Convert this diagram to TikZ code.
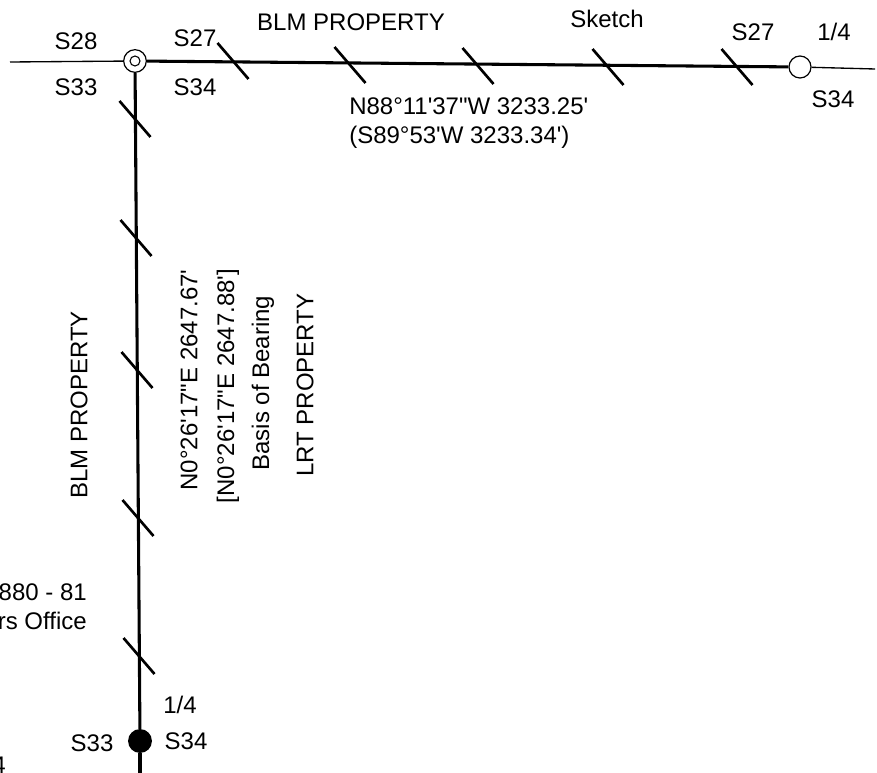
\documentclass[tikz,border=0pt]{standalone}
\usepackage{fontspec}
\newfontfamily\surveyfont{Liberation Sans}

\begin{document}
\begin{tikzpicture}[x=0.75pt,y=-0.75pt,
                main/.style = {draw, circle, inner sep=0pt, line width=0.9pt, fill=white},
                lbl/.style = {font=\surveyfont\fontsize{18}{21}\selectfont, inner sep=0pt},
                thinline/.style = {line width=1pt},
                thickline/.style = {line width=2.3pt},
                hatch/.style = {line width=2pt}]
                \useasboundingbox (0,0) rectangle (877,773);
                \clip (0,0) rectangle (877,773);
                \coordinate (west) at (10,62);
                \coordinate (east) at (875,69);
                \coordinate (south) at (140,773);
                \node[main, minimum size=17pt] (corner) at (135,61) {};
                \node[main, minimum size=16.5pt] (quarter) at (800,67) {};
                \node[main, minimum size=17pt, fill=black] (section) at (140,741) {};
                \draw[thinline] (west) -- (corner);
                \draw[thickline] (corner) -- (quarter);
                \draw[thinline] (quarter) -- (east);
                \draw[thickline] (corner) -- (section);
                \draw[thickline] (section) -- (south);
                \node[main, minimum size=7.5pt, line width=0.8pt] (centre) at (corner) {};
                % hatch marks on the two lines
                \foreach \x/\y in {233/61, 350/65, 478/66, 608/67, 737/67, 135/119, 136/238, 137/370, 138/518, 139/656}
                    \draw[hatch] (\x-15.5,\y-18) -- (\x+15.5,\y+18);
                % top line
                \node[lbl] (s28) at (76,41) {S28};
                \node[lbl] (s33) at (76,87) {S33};
                \node[lbl] (s27) at (195,38) {S27};
                \node[lbl] (s34) at (195,87) {S34};
                \node[lbl] (blmtop) at (351,22) {BLM PROPERTY};
                \node[lbl, anchor=west] (bearing) at (349,106) {N88°11'37"W 3233.25'};
                \node[lbl, anchor=west] (record) at ([yshift=-23.5pt]bearing.west) {(S89°53'W 3233.34')};
                \node[lbl] (sketch) at (607,19) {Sketch};
                \node[lbl] (s27b) at (753,32) {S27};
                \node[lbl] (quarterb) at (834,32) {1/4};
                \node[lbl] (s34b) at (833,99) {S34};
                % along the vertical line
                \node[lbl, rotate=90] (blmleft) at (79,405) {BLM PROPERTY};
                \node[lbl, rotate=90] (bearingb) at (189,380) {N0°26'17"E 2647.67'};
                \node[lbl, rotate=90] (recordb) at (228,386) {[N0°26'17"E 2647.88']};
                \node[lbl, rotate=90] (basis) at (263,383) {Basis of Bearing};
                \node[lbl, rotate=90] (lrt) at (305,385) {LRT PROPERTY};
                % bottom left
                \node[lbl, anchor=east] (year) at (87,592) {880 - 81};
                \node[lbl, anchor=east] (office) at (87,621) {rs Office};
                \node[lbl, anchor=east] (four) at (6,765) {4};
                \node[lbl] (quarterc) at (180,705) {1/4};
                \node[lbl] (s33c) at (92,743) {S33};
                \node[lbl] (s34c) at (186,741) {S34};
            \end{tikzpicture}
\end{document}
